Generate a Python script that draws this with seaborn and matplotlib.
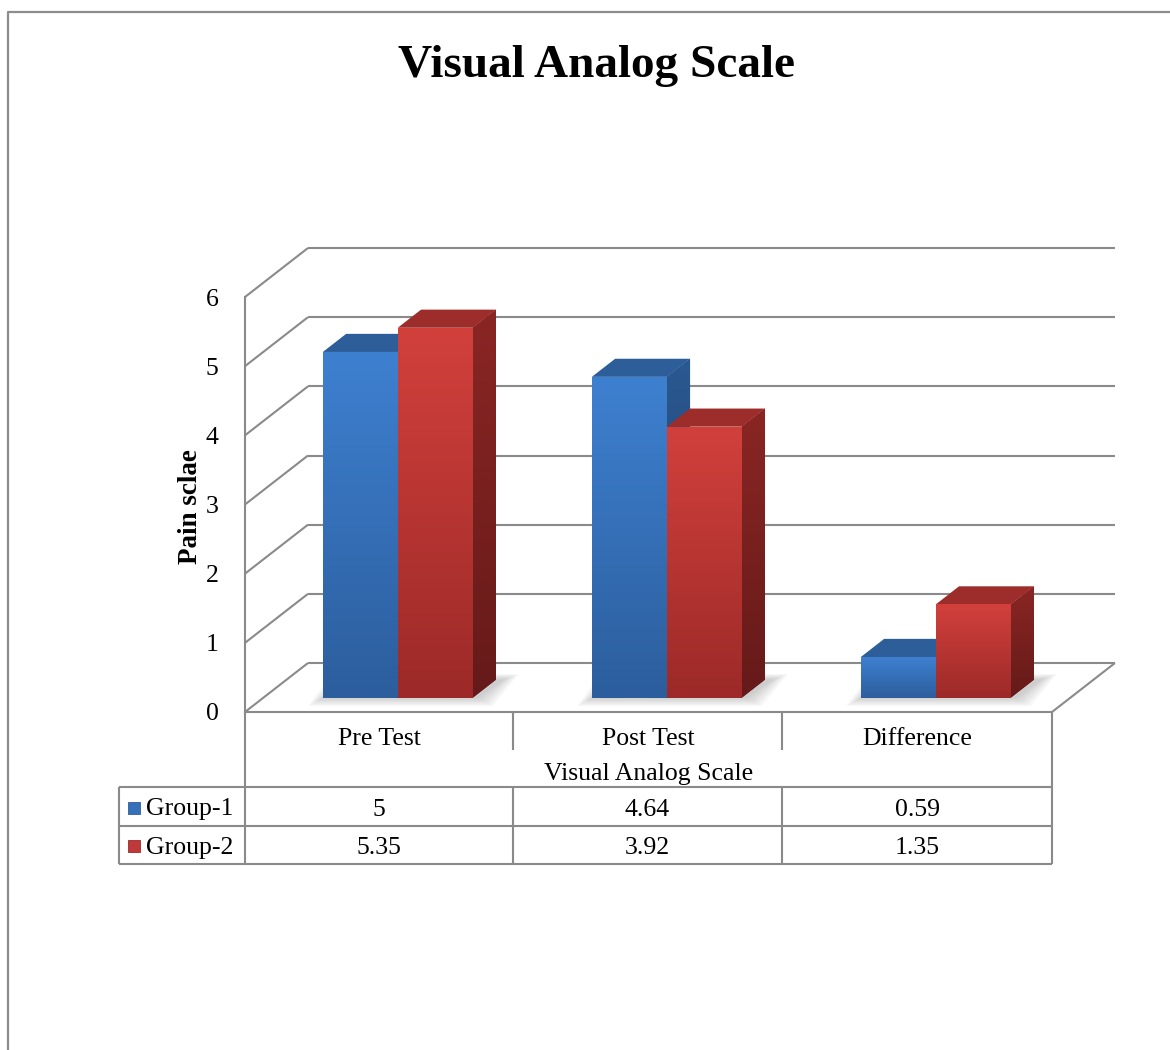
import numpy as np
import pandas as pd
import matplotlib
matplotlib.use("Agg")
import matplotlib.pyplot as plt
from matplotlib.patches import Polygon, Rectangle
from matplotlib.lines import Line2D
from matplotlib.transforms import Affine2D
from matplotlib.colors import LinearSegmentedColormap
import seaborn as sns

# ---- data -------------------------------------------------------------
categories = ["Pre Test", "Post Test", "Difference"]
groups = ["Group-1", "Group-2"]
group1 = [5, 4.64, 0.59]
group2 = [5.35, 3.92, 1.35]
y_ticks = [0, 1, 2, 3, 4, 5, 6]

df = pd.DataFrame({
    "Test": categories * 2,
    "Score": group1 + group2,
    "Group": [groups[0]] * 3 + [groups[1]] * 3,
})

# ---- style ------------------------------------------------------------
sns.set_theme(style="white")
plt.rcParams["font.family"] = ["Liberation Serif", "DejaVu Serif"]
plt.rcParams["text.color"] = "black"
plt.rcParams["axes.labelcolor"] = "black"
plt.rcParams["xtick.color"] = "black"
plt.rcParams["ytick.color"] = "black"

W, H = 1170, 1050
GRID = "#8a8a8a"
FS = 18.5

# face colours per group: front (light, dark), side (light, dark), top
COLORS = {
    groups[0]: dict(front=("#3e80d0", "#2c5e9d"), side=("#2a5890", "#1e416e"), top="#2d5e99", key="#3570b8"),
    groups[1]: dict(front=("#d2403c", "#9c2a28"), side=("#8a2624", "#651a19"), top="#9d2d2b", key="#c0393a"),
}

fig = plt.figure(figsize=(W / 100, H / 100), dpi=100)
fig.patch.set_facecolor("white")


def fx(px):
    return px / W


def fy(py):
    return 1 - py / H


# the axes is the front plane of the 3-D box
ax = fig.add_axes([fx(245), fy(712), fx(1052) - fx(245), fy(297) - fy(712)])
ax.set_facecolor("none")

sns.barplot(data=df, x="Test", y="Score", hue="Group", order=categories,
            hue_order=groups, palette=[COLORS[g]["key"] for g in groups],
            width=0.557, gap=0, saturation=1, legend=False, ax=ax,
            linewidth=0, edgecolor="none", err_kws={"linewidth": 0})

# depth direction of the box, in data units (x: categories, y: score)
DX, DY = 0.234, 0.708
T_FRONT, T_DEPTH = 0.29, 0.37
ox, oy = T_FRONT * DX, T_FRONT * DY
ddx, ddy = T_DEPTH * DX, T_DEPTH * DY


def gradient(clip, extent, c_hi, c_lo, z):
    cmap = LinearSegmentedColormap.from_list("shade", [c_lo, c_hi])
    img = ax.imshow(np.linspace(1, 0, 128)[:, None], extent=extent, cmap=cmap,
                    vmin=0, vmax=1, aspect="auto", interpolation="bilinear",
                    zorder=z)
    img.set_clip_path(clip)


# ---- walls and floor --------------------------------------------------
xl, xr = -0.5, 2.5
line_kw = dict(color=GRID, lw=1.5, clip_on=False, zorder=1, solid_capstyle="butt")
for v in y_ticks:
    ax.plot([xl + DX, xr + DX], [v + DY, v + DY], **line_kw)
    ax.plot([xl, xl + DX], [v, v + DY], **line_kw)
ax.plot([xr, xr + DX], [0, DY], **line_kw)

# ---- bars: shift front faces into the box and add top / side faces ----
bars = sorted(ax.patches, key=lambda p: p.get_x())
shift = Affine2D().translate(ox, oy) + ax.transData
z = 3
for i, p in enumerate(bars):
    g = groups[i % 2]
    c = COLORS[g]
    x0, w, h = p.get_x(), p.get_width(), p.get_height()
    x1 = x0 + w

    if i % 2 == 0:
        # soft floor shadow under each pair of bars
        pair_w = 2 * w
        for k in range(7):
            e = 0.009 * k
            sh = Polygon([
                (x0 + ox - e, oy - e * 2.2),
                (x0 + pair_w + ox + e + 0.02, oy - e * 2.2),
                (x0 + pair_w + ox + ddx + e + 0.03, oy + ddy + e * 1.5),
                (x0 + ox + ddx - e, oy + ddy + e * 1.5),
            ], closed=True, facecolor="#707070", edgecolor="none",
                alpha=0.055, zorder=2, clip_on=False)
            ax.add_patch(sh)

    side = Polygon([(x1 + ox, oy), (x1 + ox + ddx, oy + ddy),
                    (x1 + ox + ddx, h + oy + ddy), (x1 + ox, h + oy)],
                   closed=True, facecolor=c["side"][1], edgecolor="none",
                   zorder=z, clip_on=False)
    ax.add_patch(side)
    gradient(side, [x1 + ox, x1 + ox + ddx, oy, h + oy + ddy],
             c["side"][0], c["side"][1], z + 0.1)

    top = Polygon([(x0 + ox, h + oy), (x1 + ox, h + oy),
                   (x1 + ox + ddx, h + oy + ddy), (x0 + ox + ddx, h + oy + ddy)],
                  closed=True, facecolor=c["top"], edgecolor="none",
                  zorder=z + 0.2, clip_on=False)
    ax.add_patch(top)

    p.set_transform(shift)
    p.set_facecolor(c["front"][1])
    p.set_zorder(z + 0.3)
    p.set_clip_on(False)
    gradient(p, [x0 + ox, x1 + ox, oy, h + oy], c["front"][0], c["front"][1], z + 0.4)
    z += 1

# ---- axes -------------------------------------------------------------
ax.set_xlim(xl, xr)
ax.set_ylim(0, 6)
ax.set_yticks(y_ticks)
ax.set_yticklabels([str(t) for t in y_ticks], fontsize=FS, color="black")
ax.tick_params(axis="y", length=0, pad=19)
ax.tick_params(axis="x", length=0, pad=11.5, labelsize=FS, labelcolor="black")
for s in ["top", "right"]:
    ax.spines[s].set_visible(False)
for s in ["left", "bottom"]:
    ax.spines[s].set_color(GRID)
    ax.spines[s].set_linewidth(1.5)
    ax.spines[s].set_zorder(1)

ax.set_xlabel("Visual Analog Scale", fontsize=FS, color="black")
ax.xaxis.set_label_coords(0.5, -0.150)
ax.xaxis.label.set_va("center")
ax.set_ylabel("Pain sclae", fontsize=19.5, fontweight="bold", color="black")
ax.yaxis.set_label_coords(-0.068, 0.496)
ax.yaxis.label.set_va("center")

fig.suptitle("Visual Analog Scale", x=fx(596), y=fy(66), va="center",
             fontsize=34, fontweight="bold", color="black")

# ---- data table -------------------------------------------------------
tl = dict(color=GRID, lw=1.5, transform=fig.transFigure, solid_capstyle="butt")


def hline(y, xa, xb):
    fig.add_artist(Line2D([fx(xa), fx(xb)], [fy(y), fy(y)], **tl))


def vline(x, ya, yb):
    fig.add_artist(Line2D([fx(x), fx(x)], [fy(ya), fy(yb)], **tl))


col_edges = [245, 513, 782, 1052]
row_edges = [787, 826, 864]
for x in col_edges[1:3]:
    vline(x, 712, 750)
    vline(x, 787, 864)
vline(245, 712, 864)
vline(1052, 712, 864)
vline(119, 787, 864)
for y in row_edges:
    hline(y, 119, 1052)

for r, (g, vals) in enumerate(zip(groups, [group1, group2])):
    yc = (row_edges[r] + row_edges[r + 1]) / 2 + 3
    for ci, v in enumerate(vals):
        xc = (col_edges[ci] + col_edges[ci + 1]) / 2
        fig.text(fx(xc), fy(yc), f"{v:g}", ha="center", va="center",
                 fontsize=FS, color="black")
    key = Rectangle((fx(128), fy(yc + 4)), fx(12), 12 / H,
                    transform=fig.transFigure, facecolor=COLORS[g]["key"],
                    edgecolor=COLORS[g]["front"][1], lw=0.6)
    fig.add_artist(key)
    fig.text(fx(146), fy(yc), g, ha="left", va="center", fontsize=FS,
             color="black")

# ---- chart frame ------------------------------------------------------
fig.add_artist(Line2D([fx(8), fx(8), fx(1170)], [fy(1050), fy(12), fy(12)],
                      color="#8c8c8c", lw=1.6, transform=fig.transFigure))

fig.savefig("out.png", dpi=100, facecolor="white")
